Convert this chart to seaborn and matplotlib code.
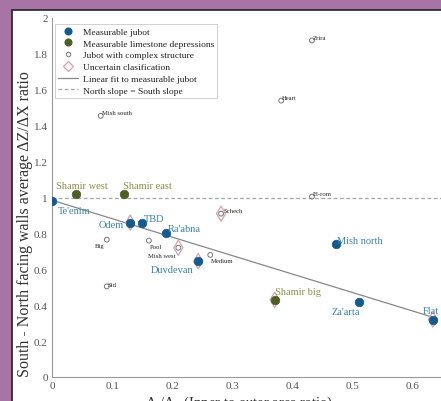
import matplotlib
matplotlib.use("Agg")
import matplotlib.pyplot as plt
import seaborn as sns
import numpy as np
import pandas as pd
from matplotlib.lines import Line2D
from matplotlib.patches import Rectangle

sns.set_style("white")
plt.rcParams['font.family'] = ['Liberation Serif', 'DejaVu Serif']
plt.rcParams['mathtext.fontset'] = 'stix'

# ---- data ----
jubot_names = ["Te'enim", "Odem", "TBD", "Ra'abna", "Duvdevan", "Mish north", "Za'arta", "Flat"]
jubot_x = [0.0, 0.13, 0.15, 0.19, 0.243, 0.472, 0.51, 0.633]
jubot_y = [0.98, 0.86, 0.86, 0.80, 0.645, 0.74, 0.42, 0.32]

lime_names = ["Shamir west", "Shamir east", "Shamir big"]
lime_x = [0.04, 0.12, 0.37]
lime_y = [1.02, 1.02, 0.43]

complex_names = ["Mish south", "Zrira", "Heart", "El-rom", "Big", "Sid", "Pool", "Medium", "Mish west", "Schech"]
complex_x = [0.081, 0.432, 0.381, 0.432, 0.091, 0.091, 0.161, 0.263, 0.21, 0.281]
complex_y = [1.455, 1.875, 1.54, 1.005, 0.765, 0.505, 0.76, 0.68, 0.72, 0.91]

uncertain_x = [0.13, 0.243, 0.37, 0.633, 0.21, 0.281]
uncertain_y = [0.86, 0.645, 0.43, 0.32, 0.72, 0.91]

fit_x = [0.0, 0.635]
fit_slope = -1.03
fit_intercept = 0.985
equal_y = 1.0

# label offsets in pixels (dx, dy, ha)
jubot_off = [(6, -9, 'left'), (-6, -2, 'right'), (2, 4, 'left'), (1, 5, 'left'),
             (-5, -8, 'right'), (1, 4, 'left'), (-13, -10, 'center'), (-2, 9, 'center')]
lime_off = [(6, 8, 'center'), (-1, 8, 'left'), (0, 8, 'left')]
complex_off = [(1, 3, 'left'), (1, 3, 'left'), (1, 3, 'left'), (1, 3, 'left'), (-2, -6, 'right'),
               (1, 2, 'left'), (1, -6, 'left'), (1, -6, 'left'), (-3, -8, 'right'), (2, 3, 'left')]

# ---- colours ----
PURPLE = '#a873a5'
BLUE = '#145a8c'
BLUE_TXT = '#3c82aa'
GREEN = '#4d5f24'
GREEN_TXT = '#8e8e48'
PINK = '#d9a3a8'
GREY = '#777777'

fig = plt.figure(figsize=(4.41, 4.02), dpi=100, facecolor=PURPLE)
fig.patches.append(Rectangle((12 / 441, -0.05), 1.0, (402 - 11) / 402 + 0.05, transform=fig.transFigure,
                             facecolor='white', edgecolor='#222222', linewidth=1.2, zorder=-10))

ax = fig.add_axes([52 / 441, 24 / 402, (441 - 52) / 441, (378 - 19) / 402])
ax.set_facecolor('none')
ax.set_zorder(5)

ax.axhline(equal_y, color='#a5a5a5', linestyle=(0, (3, 2)), linewidth=0.9, zorder=1)
fit_y = [fit_intercept + fit_slope * v for v in fit_x]
sns.lineplot(x=fit_x, y=fit_y, ax=ax, color='#888888', linewidth=0.9, zorder=2)

sns.scatterplot(x=uncertain_x, y=uncertain_y, ax=ax, marker='d', s=60, facecolor='none',
                edgecolor=PINK, linewidth=0.9, zorder=3)
sns.scatterplot(x=complex_x, y=complex_y, ax=ax, marker='o', s=12, facecolor='none',
                edgecolor=GREY, linewidth=0.7, zorder=4)
sns.scatterplot(x=jubot_x, y=jubot_y, ax=ax, marker='o', s=38, color=BLUE,
                edgecolor=BLUE, linewidth=0.5, zorder=5)
sns.scatterplot(x=lime_x, y=lime_y, ax=ax, marker='o', s=38, color=GREEN,
                edgecolor=GREEN, linewidth=0.5, zorder=5)

for n, x, y, (dx, dy, ha) in zip(jubot_names, jubot_x, jubot_y, jubot_off):
    ax.annotate(n, (x, y), xytext=(dx, dy), textcoords='offset pixels', ha=ha, va='center',
                fontsize=7.5, color=BLUE_TXT, zorder=6)
for n, x, y, (dx, dy, ha) in zip(lime_names, lime_x, lime_y, lime_off):
    ax.annotate(n, (x, y), xytext=(dx, dy), textcoords='offset pixels', ha=ha, va='center',
                fontsize=7.5, color=GREEN_TXT, zorder=6)
for n, x, y, (dx, dy, ha) in zip(complex_names, complex_x, complex_y, complex_off):
    ax.annotate(n, (x, y), xytext=(dx, dy), textcoords='offset pixels', ha=ha, va='center',
                fontsize=4.8, color='#222222', zorder=6)

ax.set_xlim(0, (441 - 52) / 601.7)
ax.set_ylim(0, 2)
ax.set_xticks([0, 0.1, 0.2, 0.3, 0.4, 0.5, 0.6])
ax.set_xticklabels(['0', '0.1', '0.2', '0.3', '0.4', '0.5', '0.6'])
ax.set_yticks([0, 0.2, 0.4, 0.6, 0.8, 1, 1.2, 1.4, 1.6, 1.8, 2])
ax.set_yticklabels(['0', '0.2', '0.4', '0.6', '0.8', '1', '1.2', '1.4', '1.6', '1.8', '2'])
ax.tick_params(axis='both', labelsize=8, colors='#555555', direction='in', length=3, width=0.6)
ax.tick_params(axis='x', pad=3)
ax.tick_params(axis='y', pad=3)
for s in ['top', 'right']:
    ax.spines[s].set_visible(False)
for s in ['left', 'bottom']:
    ax.spines[s].set_color('#999999')
    ax.spines[s].set_linewidth(0.8)

ax.set_ylabel('South - North facing walls average ΔZ/ΔX ratio', fontsize=11.5, color='#333333')
ax.yaxis.set_label_coords(-0.05, 0.43)
ax.set_xlabel('A$_i$/A$_o$ (Inner to outer area ratio)', fontsize=10.5, color='#333333')
ax.xaxis.set_label_coords(0.48, -0.047)

handles = [
    Line2D([], [], marker='o', linestyle='none', color=BLUE, markersize=4.8),
    Line2D([], [], marker='o', linestyle='none', color=GREEN, markersize=4.8),
    Line2D([], [], marker='o', linestyle='none', markerfacecolor='none', markeredgecolor=GREY,
           markersize=3.2, markeredgewidth=0.7),
    Line2D([], [], marker='D', linestyle='none', markerfacecolor='none', markeredgecolor=PINK,
           markersize=5.5, markeredgewidth=0.9),
    Line2D([], [], color='#888888', linewidth=0.9),
    Line2D([], [], color='#a5a5a5', linewidth=0.9, linestyle=(0, (3, 2))),
]
labels = ['Measurable jubot', 'Measurable limestone depressions', 'Jubot with complex structure',
          'Uncertain clasification', 'Linear fit to measurable jubot', 'North slope = South slope']
leg = ax.legend(handles, labels, loc='upper left', bbox_to_anchor=(0.008, 0.983), fontsize=6.8,
                frameon=True, fancybox=False, edgecolor='#bbbbbb', handlelength=2.1,
                handletextpad=0.45, labelspacing=0.33, borderpad=0.35, borderaxespad=0)
leg.get_frame().set_linewidth(0.6)
for t in leg.get_texts():
    t.set_color('#222222')

fig.savefig('out.png', dpi=100, facecolor=PURPLE)
